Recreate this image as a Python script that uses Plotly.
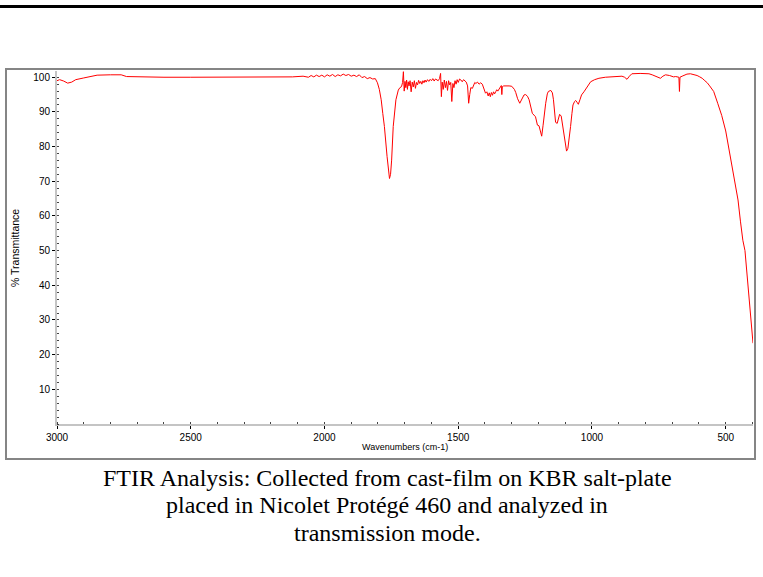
import plotly.graph_objects as go

wavenumbers = [
    3000, 2990, 2975, 2960, 2945, 2930, 2900, 2870, 2850, 2800, 2760, 2740, 2700, 2600, 2500,
    2400, 2300, 2200, 2120, 2080, 2060, 2050, 2040, 2030, 2020, 2010, 2000, 1990, 1980, 1970,
    1960, 1950, 1940, 1930, 1920, 1910, 1900, 1890, 1880, 1870, 1860, 1850, 1840, 1830, 1820,
    1810, 1802, 1795, 1788, 1782, 1776, 1766, 1760, 1757, 1753, 1749, 1743, 1738, 1733, 1724,
    1718, 1712, 1708, 1705, 1702, 1699, 1696, 1693, 1690, 1687, 1684, 1680, 1676, 1672, 1668,
    1664, 1660, 1656, 1652, 1648, 1644, 1640, 1636, 1632, 1628, 1624, 1620, 1615, 1610, 1605,
    1600, 1595, 1590, 1585, 1580, 1575, 1570, 1566, 1563, 1560, 1556, 1552, 1548, 1544, 1540,
    1536, 1532, 1528, 1524, 1520, 1516, 1512, 1508, 1504, 1500, 1495, 1490, 1485, 1480, 1475,
    1470, 1465, 1461, 1457, 1453, 1447, 1442, 1438, 1434, 1428, 1422, 1416, 1410, 1404, 1398,
    1393, 1388, 1384, 1380, 1376, 1372, 1368, 1364, 1360, 1356, 1352, 1347, 1342, 1339, 1337,
    1335, 1330, 1320, 1310, 1300, 1290, 1285, 1278, 1270, 1262, 1254, 1248, 1241, 1235, 1229,
    1223, 1211, 1204, 1198, 1192, 1188, 1183, 1179, 1173, 1167, 1163, 1154, 1148, 1144, 1140,
    1136, 1130, 1125, 1121, 1115, 1110, 1105, 1100, 1095, 1090, 1086, 1080, 1075, 1071, 1065,
    1061, 1056, 1051, 1045, 1039, 1030, 1021, 1012, 1005, 990, 974, 950, 925, 900, 888,
    878, 869, 860, 851, 820, 787, 775, 762, 752, 744, 735, 725, 710, 695, 687,
    675, 673, 671, 663, 645, 632, 620, 607, 597, 588, 578, 569, 560, 545, 530,
    515, 500, 488, 475, 465, 454, 445, 436, 428, 420, 413, 405, 398,
]

transmittance = [
    99.0, 99.3, 98.9, 98.3, 98.6, 99.3, 99.8, 100.2, 100.6, 100.7, 100.7, 100.2, 100.1, 100.0, 100.0,
    100.0, 100.0, 100.0, 100.1, 100.3, 100.0, 100.5, 100.1, 100.6, 100.2, 100.6, 100.1, 100.7, 100.3, 100.8,
    100.2, 100.7, 100.4, 100.9, 100.5, 100.8, 100.3, 100.6, 100.2, 100.7, 99.9, 100.2, 99.6, 99.9, 99.5,
    99.6, 98.4, 96.5, 93.5, 89.5, 85.8, 77.1, 72.5, 70.8, 72.0, 76.1, 85.8, 90.5, 93.5, 96.3,
    97.0, 97.3, 98.5, 101.6, 96.0, 98.8, 97.0, 99.2, 96.5, 98.7, 97.5, 99.0, 95.8, 98.6, 97.2,
    99.0, 96.8, 98.5, 97.8, 99.1, 98.2, 98.8, 98.0, 99.0, 98.4, 99.2, 98.6, 99.3, 98.8, 99.4,
    99.0, 99.6, 98.9, 99.5, 99.2, 99.0, 99.6, 101.1, 94.4, 98.6, 96.5, 99.2, 97.0, 98.8, 96.2,
    99.0, 97.8, 98.5, 93.0, 98.2, 97.0, 99.0, 98.0, 99.3, 98.5, 99.5, 99.2, 98.7, 99.3, 98.9,
    98.6, 97.5, 92.5, 95.0, 97.0, 96.8, 98.0, 98.5, 98.2, 98.6, 98.0, 98.4, 98.0, 96.8, 95.4,
    95.8, 94.6, 95.5, 94.4, 95.6, 94.8, 95.8, 95.2, 95.8, 96.4, 96.0, 96.8, 97.2, 97.6, 95.0,
    97.3, 97.5, 97.6, 97.5, 97.4, 96.5, 95.6, 93.8, 92.5, 93.5, 94.9, 95.0, 94.5, 93.5, 91.5,
    89.6, 88.6, 86.2, 86.0, 84.0, 83.0, 86.0, 89.6, 92.5, 95.2, 95.9, 96.2, 95.5, 93.5, 89.0,
    87.0, 86.7, 88.0, 89.3, 88.8, 86.0, 82.9, 80.0, 78.7, 79.5, 81.5, 85.8, 89.5, 92.0, 93.0,
    93.3, 92.8, 92.2, 93.5, 94.9, 95.8, 96.8, 97.8, 98.7, 99.3, 99.7, 100.0, 100.2, 100.3, 100.3,
    100.0, 99.4, 100.3, 101.0, 101.1, 101.0, 100.7, 100.2, 99.9, 99.7, 100.3, 100.7, 100.5, 100.1, 100.2,
    100.0, 95.9, 100.0, 100.3, 100.9, 101.0, 100.8, 100.5, 100.1, 99.7, 99.0, 98.4, 97.5, 95.9, 92.5,
    89.0, 84.5, 79.5, 74.0, 69.5, 64.6, 58.5, 53.0, 50.0, 43.0, 35.8, 30.0, 23.3,
]

x_ticks = [3000, 2500, 2000, 1500, 1000, 500]
y_ticks = [10, 20, 30, 40, 50, 60, 70, 80, 90, 100]

caption_lines = [
    "FTIR Analysis: Collected from cast-film on KBR salt-plate",
    "placed in Nicolet Protégé 460 and analyzed in",
    "transmission mode.",
]

W, H = 763, 577
x0, x1 = 57, 753
y0, y1 = 71, 424

fig = go.Figure()
fig.add_trace(go.Scatter(
    x=wavenumbers, y=transmittance, mode="lines",
    line=dict(color="#ff0000", width=1), hoverinfo="skip", showlegend=False,
))

tickfont = dict(family="Liberation Sans, Arial, sans-serif", size=10, color="#000000")

fig.update_layout(
    width=W, height=H, autosize=False,
    margin=dict(l=0, r=0, t=0, b=0),
    paper_bgcolor="#ffffff", plot_bgcolor="#ffffff",
    showlegend=False,
    xaxis=dict(
        domain=[x0 / W, x1 / W], range=[3000, 398], autorange=False,
        tickvals=x_ticks, ticktext=[str(v) for v in x_ticks],
        showgrid=False, zeroline=False, showline=True, linecolor="#c4c4c4", linewidth=2,
        ticks="outside", ticklen=3, tickcolor="#000000", tickwidth=1,
        minor=dict(dtick=100, ticks="inside", ticklen=2, tickcolor="#444444", tickwidth=1),
        tickfont=tickfont, automargin=False, fixedrange=True,
    ),
    yaxis=dict(
        domain=[(H - y1) / H, (H - y0) / H], range=[0, 101.8], autorange=False,
        tickvals=y_ticks, ticktext=[str(v) for v in y_ticks],
        showgrid=False, zeroline=False, showline=True, linecolor="#c4c4c4", linewidth=2,
        ticks="outside", ticklen=3, tickcolor="#000000", tickwidth=1,
        minor=dict(dtick=2, ticks="inside", ticklen=2, tickcolor="#444444", tickwidth=1),
        tickfont=tickfont, automargin=False, fixedrange=True,
    ),
    shapes=[
        dict(type="line", xref="paper", yref="paper", x0=0, x1=1,
             y0=(H - 6.5) / H, y1=(H - 6.5) / H, line=dict(color="#000000", width=3)),
        dict(type="rect", xref="paper", yref="paper", x0=6 / W, x1=755 / W,
             y0=(H - 459) / H, y1=(H - 69) / H, line=dict(color="#858585", width=2),
             layer="below"),
    ],
    annotations=[
        dict(text="% Transmittance", xref="paper", yref="paper", x=15 / W, y=(H - 248) / H,
             textangle=-90, showarrow=False, xanchor="center", yanchor="middle",
             font=dict(family="Liberation Sans, Arial, sans-serif", size=10.5, color="#000000")),
        dict(text="Wavenumbers (cm-1)", xref="paper", yref="paper", x=405 / W, y=(H - 447) / H,
             showarrow=False, xanchor="center", yanchor="middle",
             font=dict(family="Liberation Sans, Arial, sans-serif", size=9, color="#000000")),
    ] + [
        dict(text=line, xref="paper", yref="paper", x=387 / W, y=(H - yy) / H,
             showarrow=False, xanchor="center", yanchor="middle",
             font=dict(family="Liberation Serif, Times New Roman, serif", size=24, color="#000000"))
        for line, yy in zip(caption_lines, [477.5, 505, 532.5])
    ],
)

fig.write_html(
    "out.html",
    config={"displayModeBar": False, "staticPlot": True},
    post_script="document.body.style.margin='0';document.body.style.padding='0';",
)
